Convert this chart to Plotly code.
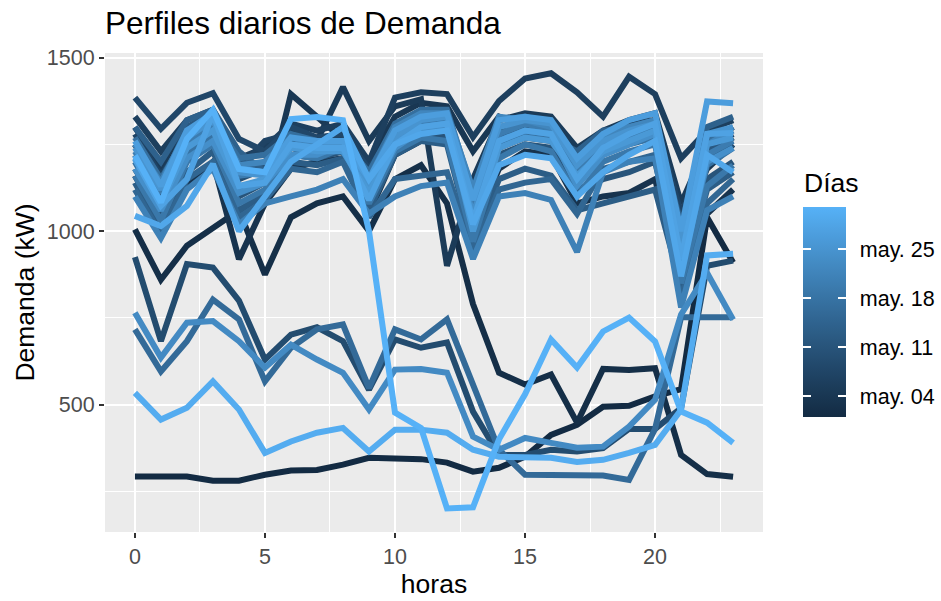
import plotly.graph_objects as go
import numpy as np

hours = list(range(24))
days = list(range(1, 32))
day_ticks = [4, 11, 18, 25]
day_tick_labels = ["may. 04", "may. 11", "may. 18", "may. 25"]

d01 = [293,293,293,281,281,298,310,312,327,347,347,343,333,307,318,350,413,442,494,497,524,545,1040,910]
d02 = [1005,860,958,1010,1060,875,1040,1080,1100,1000,1150,1190,1080,790,592,558,587,448,603,600,605,355,300,292]
d03 = [1160,1020,1130,1200,919,1080,1180,1200,1210,1050,1220,1260,1270,1000,1180,1230,1220,1080,1100,1110,1150,860,1050,1120]
d04 = [1250,1120,1240,1290,1050,1090,1395,1330,1260,1200,1330,1370,1360,1230,1330,1300,1280,1200,1260,1300,1320,1000,1180,1250]
d05 = [1300,1180,1300,1330,1150,1200,1290,1260,1415,1260,1360,1380,900,1150,1320,1340,1330,1240,1290,1320,1340,1080,1250,1300]
d06 = [1330,1230,1320,1350,1210,1240,1310,1290,1310,1200,1385,1400,1395,1271,1375,1440,1455,1400,1330,1445,1395,1210,1290,1320]
d07 = [1280,1160,1270,1310,1180,1260,1280,1250,1270,1150,1300,1330,1320,1120,1300,1310,1300,1220,1280,1310,1320,1050,1240,1280]
d08 = [1385,1295,1370,1398,1266,1230,1300,1270,1280,1180,1290,1320,1310,1100,1290,1300,1290,1200,1270,1290,1300,1000,1220,1270]
d09 = [925,683,905,895,800,630,702,723,683,543,688,664,679,480,355,355,370,365,375,430,430,490,900,915]
d10 = [1220,1100,1280,1310,1150,1180,1260,1240,1250,1130,1260,1300,1300,1040,1240,1270,1260,1150,1240,1260,1280,930,1200,1250]
d11 = [1180,1050,1220,1260,1100,1140,1220,1210,1230,1090,1240,1280,1270,990,1220,1250,1240,1120,1150,1170,1200,880,1150,1200]
d12 = [1250,1130,1300,1340,1200,1180,1240,1220,1240,1120,1280,1320,1330,1080,1270,1300,1290,1180,1260,1280,1300,950,1230,1260]
d13 = [1140,1000,1170,1230,1060,1110,1200,1190,1210,1060,1220,1260,1250,960,1150,1180,1160,1060,1080,1100,1120,840,1120,1170]
d14 = [1300,1200,1320,1350,1230,1170,1250,1230,1230,1150,1300,1330,1320,1120,1280,1290,1270,1230,1290,1300,1310,1020,1300,1330]
d15 = [1120,990,1150,1200,1040,1090,1180,1170,1200,1040,1150,1160,1170,940,1120,1140,1150,1050,1180,1200,1220,800,1080,1150]
d16 = [717,596,683,803,746,567,664,717,731,548,717,688,746,560,370,298,298,297,296,283,430,752,752,752]
d17 = [1270,1150,1280,1320,1210,1220,1280,1260,1260,1170,1310,1350,1350,1110,1320,1330,1310,1190,1280,1300,1320,970,1260,1300]
d18 = [1200,1060,1230,1280,1120,1150,1240,1230,1250,1100,1260,1290,1290,1020,1250,1280,1270,1140,1220,1250,1270,900,1190,1240]
d19 = [1160,1030,1200,1250,1080,1120,1220,1210,1240,1080,1230,1270,1260,970,1210,1250,1230,1100,1200,1230,1250,850,1130,1190]
d20 = [1230,1110,1260,1300,1160,1170,1250,1230,1240,1120,1260,1310,1320,1060,1280,1310,1290,1180,1250,1270,1300,920,1220,1260]
d21 = [1100,980,1120,1180,1020,1080,1100,1120,1150,1050,1100,1130,1140,920,1100,1110,1090,940,1170,1200,1210,780,1060,1100]
d22 = [1250,1140,1290,1330,1190,1200,1270,1250,1260,1150,1300,1340,1340,1120,1330,1320,1300,1200,1270,1300,1320,990,1250,1290]
d23 = [765,636,736,741,683,607,673,630,592,486,601,603,592,408,370,404,390,376,379,437,514,760,880,745]
d24 = [1180,1060,1210,1260,1110,1140,1220,1220,1250,1100,1240,1290,1300,1050,1260,1290,1280,1130,1220,1250,1280,890,1200,1240]
d25 = [1240,1120,1270,1320,1170,1160,1250,1240,1250,1130,1270,1320,1330,1090,1300,1320,1310,1190,1260,1290,1310,960,1280,1300]
d26 = [1210,1080,1240,1290,1130,1150,1240,1230,1230,1110,1250,1300,1310,1000,1240,1270,1260,1160,1230,1260,1290,880,1250,1270]
d27 = [1260,1130,1290,1340,1180,1170,1270,1260,1260,1150,1290,1330,1340,1090,1320,1330,1320,1210,1280,1320,1340,1000,1374,1369]
d28 = [1208,1073,1150,1338,1130,1140,1250,1240,1240,1090,1250,1300,1310,1030,1260,1290,1280,1150,1240,1280,1310,920,1280,1283]
d29 = [1044,1015,1073,1193,1000,1100,1200,1250,1300,1150,1250,1280,1290,1020,1190,1220,1210,1100,1170,1220,1260,870,1220,1170]
d30 = [534,457,491,567,486,361,394,419,433,365,428,428,419,370,350,347,347,335,341,361,384,485,930,935]
d31 = [1218,1083,1266,1350,1179,1170,1323,1329,1320,1000,477,433,201,204,400,530,688,607,711,751,682,480,448,390]

series = [d01,d02,d03,d04,d05,d06,d07,d08,d09,d10,d11,d12,d13,d14,d15,d16,
          d17,d18,d19,d20,d21,d22,d23,d24,d25,d26,d27,d28,d29,d30,d31]

LOW, HIGH = "#132B43", "#56B1F7"

def hex2rgb(h):
    h = h.lstrip("#")
    return np.array([int(h[i:i+2], 16) for i in (0, 2, 4)], float) / 255.0

def srgb2lin(c):
    return np.where(c <= 0.04045, c / 12.92, ((c + 0.055) / 1.055) ** 2.4)

def lin2srgb(c):
    return np.where(c <= 0.0031308, 12.92 * c, 1.055 * np.power(np.clip(c, 0, None), 1 / 2.4) - 0.055)

M = np.array([[0.4124564, 0.3575761, 0.1804375],
              [0.2126729, 0.7151522, 0.0721750],
              [0.0193339, 0.1191920, 0.9503041]])
WHITE = np.array([0.95047, 1.0, 1.08883])

def rgb2lab(rgb):
    xyz = M @ srgb2lin(rgb) / WHITE
    f = np.where(xyz > 216 / 24389, np.cbrt(xyz), (24389 / 27 * xyz + 16) / 116)
    return np.array([116 * f[1] - 16, 500 * (f[0] - f[1]), 200 * (f[1] - f[2])])

def lab2rgb(lab):
    L, a, b = lab
    fy = (L + 16) / 116
    fx = fy + a / 500
    fz = fy - b / 200
    f = np.array([fx, fy, fz])
    xyz = np.where(f ** 3 > 216 / 24389, f ** 3, (116 * f - 16) / (24389 / 27)) * WHITE
    rgb = lin2srgb(np.linalg.solve(M, xyz))
    return np.clip(rgb, 0, 1)

lab_lo, lab_hi = rgb2lab(hex2rgb(LOW)), rgb2lab(hex2rgb(HIGH))

def color_at(t):
    rgb = lab2rgb(lab_lo + (lab_hi - lab_lo) * t)
    r, g, b = (np.round(rgb * 255)).astype(int)
    return f"rgb({r},{g},{b})"

font = "Liberation Sans, Arial, sans-serif"
dmin, dmax = min(days), max(days)
fig = go.Figure()
for d, vals in zip(days, series):
    fig.add_trace(go.Scatter(x=hours, y=vals, mode="lines",
                             line=dict(color=color_at((d - dmin) / (dmax - dmin)), width=6),
                             showlegend=False, hoverinfo="skip"))

cscale = [[i / 20, color_at(i / 20)] for i in range(21)]
clear = [[0, "rgba(0,0,0,0)"], [1, "rgba(0,0,0,0)"]]
CB_Y = 0.1294

def add_cbar(colorscale, thickness, ticks, ticklen, tickcolor, showlabels):
    fig.add_trace(go.Scatter(
        x=[0, 0], y=[-5000, -5000], mode="markers", showlegend=False, hoverinfo="skip",
        marker=dict(size=1, opacity=0, color=[dmin, dmax], cmin=dmin, cmax=dmax,
                    colorscale=colorscale, showscale=True,
                    colorbar=dict(thickness=thickness, thicknessmode="pixels", len=210, lenmode="pixels",
                                  x=803 / 941, xref="container", xanchor="left", xpad=0,
                                  y=CB_Y, yref="container", yanchor="bottom", ypad=0,
                                  outlinewidth=0, ticks=ticks, ticklen=ticklen, tickwidth=1.5,
                                  tickcolor=tickcolor, tickvals=day_ticks, ticktext=day_tick_labels,
                                  showticklabels=showlabels,
                                  tickfont=dict(family=font, size=21.5, color="black")))))

add_cbar(cscale, 43, "inside", 8, "white", False)
add_cbar(clear, 8, "inside", 8, "white", False)
add_cbar(clear, 43, "outside", 10, "rgba(0,0,0,0)", True)

fig.update_layout(
    width=941, height=601,
    margin=dict(l=105, r=178, t=53, b=69, autoexpand=False),
    paper_bgcolor="white", plot_bgcolor="#EBEBEB",
    font=dict(family=font, color="black"),
    title=dict(text="Perfiles diarios de Demanda", x=0, xref="paper", xanchor="left",
               y=1 - 23 / 601, yref="container", yanchor="middle",
               font=dict(size=31.5, color="black", family=font)),
    annotations=[dict(text="Días", xref="paper", x=(802 - 105) / (941 - 105 - 178), xanchor="left",
                      yref="paper", y=(601 - 183 - 69) / (601 - 53 - 69), yanchor="middle",
                      showarrow=False,
                      font=dict(size=26.5, color="black", family=font))],
    xaxis=dict(range=[-1.15, 24.15], tickvals=[0, 5, 10, 15, 20], showgrid=True,
               gridcolor="white", gridwidth=2, zeroline=False, showline=False,
               ticks="outside", ticklen=5, tickwidth=2, tickcolor="#333333",
               tickfont=dict(size=21.5, color="#4D4D4D", family=font),
               minor=dict(tickvals=[2.5, 7.5, 12.5, 17.5, 22.5], showgrid=True,
                          gridcolor="white", gridwidth=1, ticks=""),
               title=dict(text="horas", font=dict(size=26.5, color="black", family=font), standoff=4)),
    yaxis=dict(range=[133, 1513.5], tickvals=[500, 1000, 1500], showgrid=True,
               gridcolor="white", gridwidth=2, zeroline=False, showline=False,
               ticks="outside", ticklen=5, tickwidth=2, tickcolor="#333333",
               tickfont=dict(size=21.5, color="#4D4D4D", family=font),
               minor=dict(tickvals=[250, 750, 1250], showgrid=True,
                          gridcolor="white", gridwidth=1, ticks=""),
               title=dict(text="Demanda (kW)", font=dict(size=26.5, color="black", family=font), standoff=4)),
)

fig.write_html("out.html", config={"displayModeBar": False},
               post_script="document.body.style.margin='0';document.body.style.overflow='hidden';")
